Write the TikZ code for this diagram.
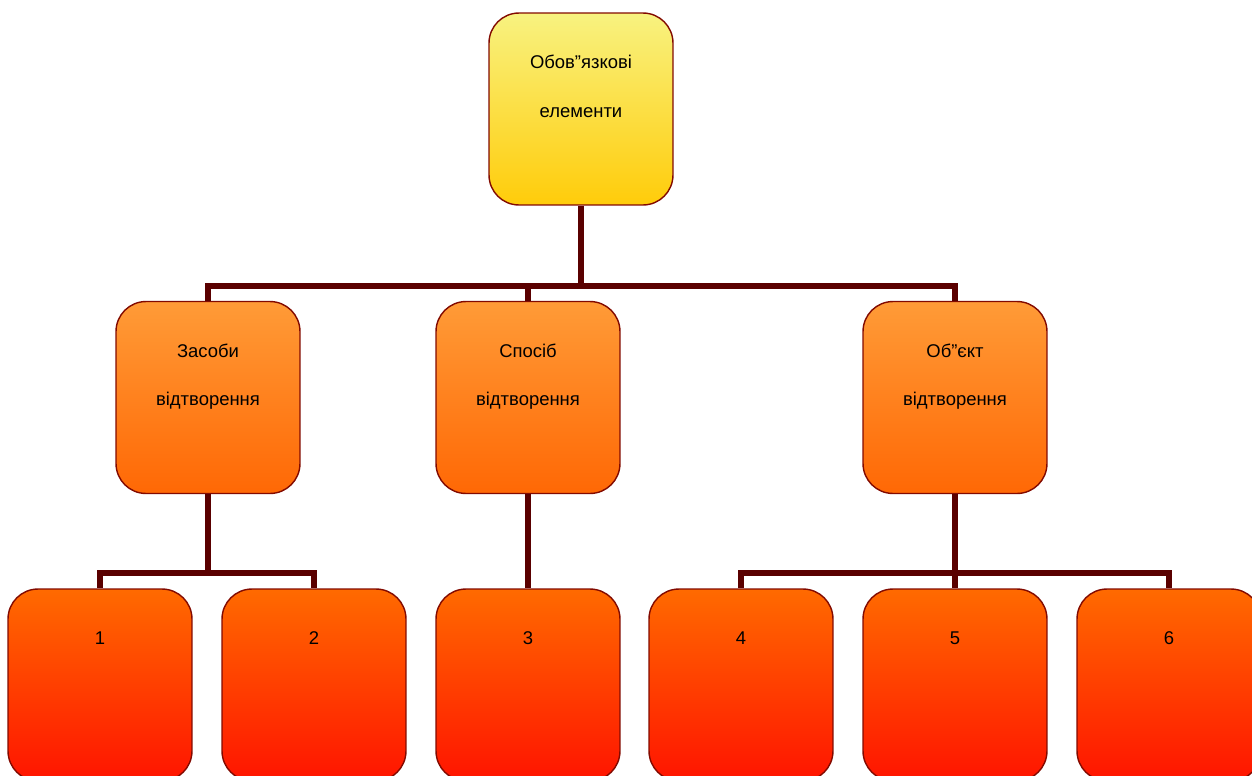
\documentclass[tikz,border=0pt]{standalone}
\usepackage{fontspec}
\setmainfont{Liberation Sans}
\usetikzlibrary{positioning}
\colorlet{background}{white}
\definecolor{wireColor}{RGB}{90,0,0}
\definecolor{edgeColor}{RGB}{130,10,0}
\definecolor{topLight}{RGB}{248,242,128}
\definecolor{topDark}{RGB}{255,204,10}
\definecolor{midLight}{RGB}{255,155,55}
\definecolor{midDark}{RGB}{255,104,5}
\definecolor{lowLight}{RGB}{255,106,0}
\definecolor{lowDark}{RGB}{255,20,0}
\tikzset{
  box/.style={draw=edgeColor, line width=0.8pt, rounded corners=0.6cm,
    minimum width=3.68cm, minimum height=3.84cm, inner sep=0pt},
  topbox/.style={box, top color=topLight, bottom color=topDark},
  midbox/.style={box, top color=midLight, bottom color=midDark},
  lowbox/.style={box, top color=lowLight, bottom color=lowDark},
  boxtext/.style={anchor=north, inner sep=0pt, align=center,
    font=\fontsize{10.5}{27.5}\selectfont},
  wire/.style={wireColor, line width=3.4pt}
}
\begin{document}
\begin{tikzpicture}[x=0.02cm, y=-0.02cm]
\useasboundingbox (0,0) rectangle (1252,775);
% top
\node[topbox] (top) at (581,109) {};
\node[boxtext, below=0.85cm of top.north] (top-t) {Обов”язкові\\елементи};
% middle row
\node[midbox] (zas) at (208,397.5) {};
\node[midbox] (spos) at (528,397.5) {};
\node[midbox] (obj) at (955,397.5) {};
\node[boxtext, below=0.85cm of zas.north] (zas-t) {Засоби\\відтворення};
\node[boxtext, below=0.85cm of spos.north] (spos-t) {Спосіб\\відтворення};
\node[boxtext, below=0.85cm of obj.north] (obj-t) {Об”єкт\\відтворення};
% bottom row
\node[lowbox] (b1) at (100,685) {};
\node[lowbox] (b2) at (314,685) {};
\node[lowbox] (b3) at (528,685) {};
\node[lowbox] (b4) at (741,685) {};
\node[lowbox] (b5) at (955,685) {};
\node[lowbox] (b6) at (1169,685) {};
\foreach \n in {1,...,6}
  \node[boxtext, below=0.86cm of b\n.north] (b\n-t) {\n};
% connectors
\coordinate (hub) at (581,286);
\coordinate (hubA) at (208,573);
\coordinate (hubB) at (955,573);
\draw[wire] (top.south) -- (hub);
\draw[wire] (hub) -| (zas.north);
\draw[wire] (hub) -| (spos.north);
\draw[wire] (hub) -| (obj.north);
\draw[wire] (zas.south) -- (hubA);
\draw[wire] (hubA) -| (b1.north);
\draw[wire] (hubA) -| (b2.north);
\draw[wire] (spos.south) -- (b3.north);
\draw[wire] (obj.south) -- (hubB);
\draw[wire] (hubB) -| (b4.north);
\draw[wire] (hubB) -- (b5.north);
\draw[wire] (hubB) -| (b6.north);
\end{tikzpicture}
\end{document}
